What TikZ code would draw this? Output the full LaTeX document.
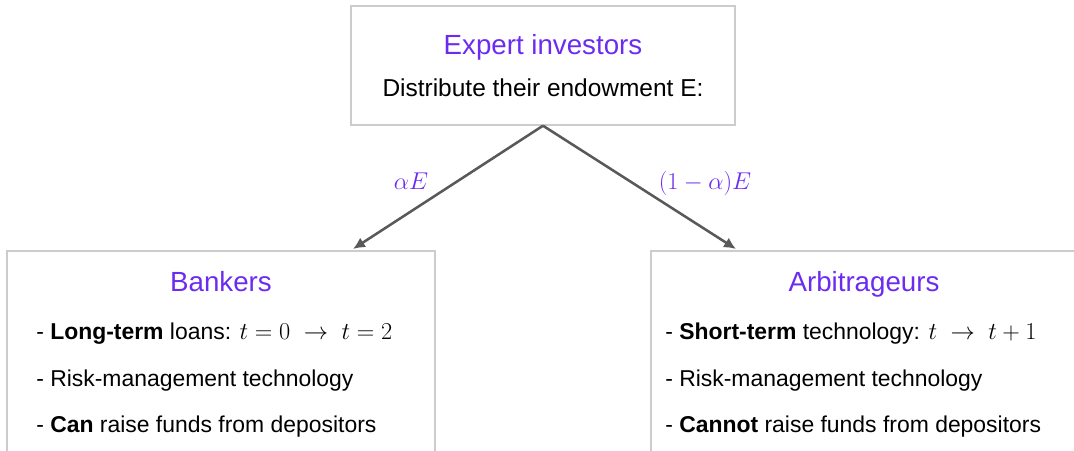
\documentclass[tikz,border=0pt]{standalone}
\usepackage{fontspec}
\setmainfont{Liberation Sans}
\usetikzlibrary{arrows.meta}
\definecolor{investpurple}{RGB}{108,43,240}
\definecolor{arrowgray}{RGB}{89,89,89}
\definecolor{boxgray}{RGB}{204,204,204}
\begin{document}
\begin{tikzpicture}[x=0.025cm,y=-0.025cm,>={Latex[length=8.5pt,width=8pt]}]
\tikzset{
  panel/.style={draw=boxgray,line width=1pt,shape=rectangle,inner sep=0pt},
  heading/.style={text=investpurple,font=\fontsize{19.7}{24}\selectfont,anchor=base,inner sep=0pt},
  item/.style={font=\fontsize{16.3}{20}\selectfont,anchor=base west,inner sep=0pt},
  share/.style={text=investpurple,font=\fontsize{18.5}{22}\selectfont,anchor=base,inner sep=0pt}
}
\useasboundingbox (0,0) rectangle (1074,451);
\clip (0,0) rectangle (1074,451);
% boxes
\node[panel,minimum width=9.6cm,minimum height=2.975cm] (expert) at (543,65.5) {};
\node[panel,minimum width=10.7cm,minimum height=5.725cm] (bankers) at (221,365.5) {};
\node[panel,minimum width=11.1cm,minimum height=5.725cm] (arbs) at (873,365.5) {};
% top box text
\node[heading] (expert title) at (543,55) {Expert investors};
\node[font=\fontsize{17.4}{21}\selectfont,anchor=base,inner sep=0pt] (expert text) at (543,97) {Distribute their endowment E:};
% arrows
\coordinate (bankers in) at (353,249);
\coordinate (arbs in) at (736,249);
\draw[->,arrowgray,line width=1.8pt] (expert.south) -- (bankers in);
\draw[->,arrowgray,line width=1.8pt] (expert.south) -- (arbs in);
\node[share] (alpha share) at (411,190) {$\alpha E$};
\node[share] (rest share) at (705,190) {$(1-\alpha)E$};
% bankers
\node[heading] (bankers title) at (221,292) {Bankers};
\node[item] (bankers one) at (36,340) {- \textbf{Long-term} loans: $t=0\;\rightarrow\;t=2$};
\node[item] (bankers two) at (36,387) {- Risk-management technology};
\node[item] (bankers three) at (36,433) {- \textbf{Can} raise funds from depositors};
% arbitrageurs
\node[heading] (arbs title) at (864,292) {Arbitrageurs};
\node[item] (arbs one) at (665,340) {- \textbf{Short-term} technology: $t\;\rightarrow\;t+1$};
\node[item] (arbs two) at (665,387) {- Risk-management technology};
\node[item] (arbs three) at (665,433) {- \textbf{Cannot} raise funds from depositors};
\end{tikzpicture}
\end{document}
